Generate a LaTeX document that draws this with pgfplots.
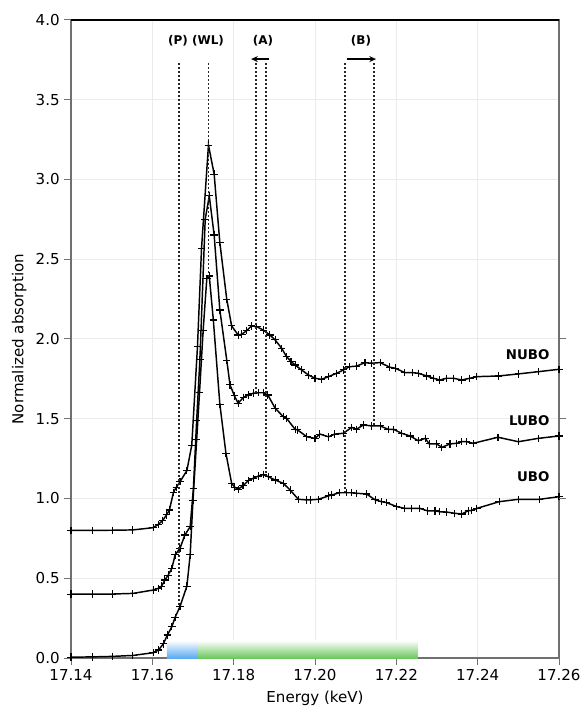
\documentclass[border=0pt]{standalone}
\usepackage{fontspec}
\setmainfont{DejaVu Sans}
\usepackage{pgfplots}
\pgfplotsset{compat=1.18}
\usetikzlibrary{arrows.meta,calc}
\definecolor{gridgray}{HTML}{EBEBEB}
\definecolor{bandblue}{HTML}{5AAAF0}
\definecolor{bandgreen}{HTML}{6CC85E}
\definecolor{spine}{HTML}{707070}
\tikzset{dotline/.style={black!85, line width=1.1pt, dash pattern=on 1.8pt off 1.2pt}}
\pgfplotsset{spec/.style={black, line width=1.1pt, mark=+, mark size=2.8pt,
    mark options={line width=0.8pt, solid}}}

\begin{document}
\begin{tikzpicture}
\begin{axis}[name=ax, scale only axis, width=366pt, height=478.5pt,
  xmin=17.14, xmax=17.26, ymin=0, ymax=4,
  xtick={17.14,17.16,17.18,17.20,17.22,17.24,17.26},
  ytick={0,0.5,1,1.5,2,2.5,3,3.5,4},
  xticklabel style={/pgf/number format/.cd,fixed,fixed zerofill,precision=2},
  yticklabel style={/pgf/number format/.cd,fixed,fixed zerofill,precision=1},
  /pgf/number format/assume math mode=true,
  font=\fontsize{11.3}{13}\selectfont,
  tick label style={font=\fontsize{11.3}{13}\selectfont},
  xtick pos=left, ytick pos=left, tick align=outside,
  major tick length=5pt,
  tick style={spine, line width=0.75pt},
  axis line style={spine, line width=0.9pt},
  grid=major, major grid style={gridgray, line width=0.75pt},
  xlabel={Energy (keV)}, ylabel={Normalized absorption},
  xlabel style={yshift=-1pt},
  clip mode=individual,
]
% energy windows at the bottom
\fill[bottom color=bandblue, top color=white] (axis cs:17.1636,0) rectangle (axis cs:17.1712,0.11);
\fill[bottom color=bandgreen, top color=white] (axis cs:17.1712,0) rectangle (axis cs:17.2253,0.11);

% UBO
\addplot[spec] coordinates {
(17.1400,0.005)(17.1452,0.007)(17.1501,0.010)(17.1552,0.016)(17.1602,0.033)
(17.1615,0.050)(17.1627,0.088)(17.1637,0.144)(17.1648,0.196)(17.1656,0.255)
(17.1668,0.322)(17.1685,0.451)(17.1693,0.646)(17.1700,0.990)(17.1709,1.367)
(17.1716,1.663)(17.1725,2.056)(17.1734,2.380)(17.1740,2.395)(17.1750,2.119)
(17.1766,1.592)(17.1781,1.283)(17.1795,1.095)(17.1803,1.070)(17.1811,1.058)
(17.1823,1.080)(17.1836,1.112)(17.1848,1.127)(17.1860,1.140)(17.1873,1.150)
(17.1885,1.137)(17.1902,1.116)(17.1922,1.095)(17.1939,1.053)(17.1959,0.995)
(17.1980,0.991)(17.1988,0.991)(17.2008,0.995)(17.2033,1.016)(17.2041,1.022)
(17.2060,1.036)(17.2078,1.036)(17.2090,1.036)(17.2102,1.033)(17.2127,1.028)
(17.2148,0.991)(17.2164,0.980)(17.2176,0.974)(17.2201,0.949)(17.2221,0.938)
(17.2238,0.938)(17.2258,0.938)(17.2276,0.923)(17.2295,0.923)(17.2307,0.917)
(17.2324,0.915)(17.2344,0.907)(17.2361,0.903)(17.2377,0.923)(17.2385,0.925)
(17.2398,0.938)(17.2453,0.980)(17.2500,0.995)(17.2552,0.995)(17.2600,1.011)
};
% LUBO
\addplot[spec] coordinates {
(17.1400,0.400)(17.1452,0.400)(17.1501,0.401)(17.1552,0.405)(17.1602,0.426)
(17.1615,0.437)(17.1623,0.451)(17.1631,0.489)(17.1639,0.520)(17.1648,0.562)
(17.1656,0.646)(17.1668,0.688)(17.1680,0.771)(17.1693,0.823)(17.1701,1.064)
(17.1709,1.490)(17.1717,1.873)(17.1730,2.750)(17.1740,2.897)(17.1752,2.652)
(17.1766,2.182)(17.1783,1.868)(17.1791,1.712)(17.1802,1.643)(17.1811,1.597)
(17.1824,1.634)(17.1836,1.649)(17.1848,1.660)(17.1861,1.663)(17.1873,1.663)
(17.1884,1.649)(17.1902,1.566)(17.1922,1.513)(17.1930,1.503)(17.1951,1.434)
(17.1957,1.430)(17.1980,1.387)(17.2000,1.377)(17.2012,1.404)(17.2033,1.387)
(17.2049,1.404)(17.2070,1.409)(17.2090,1.446)(17.2102,1.434)(17.2119,1.461)
(17.2139,1.455)(17.2160,1.455)(17.2180,1.434)(17.2193,1.434)(17.2213,1.409)
(17.2234,1.392)(17.2254,1.362)(17.2271,1.377)(17.2281,1.342)(17.2299,1.342)
(17.2312,1.321)(17.2332,1.342)(17.2348,1.346)(17.2361,1.356)(17.2373,1.356)
(17.2389,1.346)(17.2450,1.384)(17.2500,1.356)(17.2549,1.377)(17.2600,1.392)
};
% NUBO
\addplot[spec] coordinates {
(17.1400,0.800)(17.1452,0.800)(17.1501,0.801)(17.1552,0.803)(17.1602,0.817)
(17.1615,0.838)(17.1625,0.861)(17.1635,0.897)(17.1642,0.928)(17.1652,1.039)
(17.1659,1.070)(17.1668,1.105)(17.1685,1.175)(17.1697,1.335)(17.1711,1.952)
(17.1721,2.569)(17.1738,3.216)(17.1752,3.034)(17.1766,2.604)(17.1783,2.249)
(17.1795,2.082)(17.1811,2.025)(17.1820,2.030)(17.1832,2.052)(17.1844,2.082)
(17.1857,2.077)(17.1873,2.056)(17.1889,2.025)(17.1902,1.994)(17.1918,1.942)
(17.1930,1.889)(17.1941,1.860)(17.1951,1.837)(17.1967,1.806)(17.1984,1.774)
(17.2000,1.754)(17.2016,1.747)(17.2033,1.764)(17.2053,1.785)(17.2070,1.806)
(17.2084,1.826)(17.2102,1.830)(17.2123,1.852)(17.2139,1.848)(17.2160,1.852)
(17.2184,1.823)(17.2197,1.817)(17.2221,1.789)(17.2240,1.789)(17.2254,1.785)
(17.2275,1.768)(17.2291,1.754)(17.2307,1.743)(17.2324,1.754)(17.2340,1.754)
(17.2361,1.743)(17.2381,1.754)(17.2398,1.764)(17.2451,1.768)(17.2500,1.781)
(17.2549,1.795)(17.2600,1.810)
};

% marker lines
\draw[dotline] (axis cs:17.1666,3.73) -- (axis cs:17.1666,0.32);
\draw[dotline] (axis cs:17.1738,3.73) -- (axis cs:17.1738,2.39);
\draw[dotline] (axis cs:17.1855,3.73) -- (axis cs:17.1855,1.66);
\draw[dotline] (axis cs:17.1879,3.73) -- (axis cs:17.1879,1.14);
\draw[dotline] (axis cs:17.2074,3.73) -- (axis cs:17.2074,1.04);
\draw[dotline] (axis cs:17.2145,3.73) -- (axis cs:17.2145,1.46);
\draw[-{Stealth[length=5pt,width=4.5pt]}, line width=1pt] (axis cs:17.1888,3.755) -- (axis cs:17.1843,3.755);
\draw[-{Stealth[length=5pt,width=4.5pt]}, line width=1pt] (axis cs:17.2079,3.755) -- (axis cs:17.2150,3.755);

\begin{scope}[every node/.style={font=\fontsize{9}{10}\selectfont\bfseries}]
\node at (axis cs:17.1663,3.87) {(P)};
\node at (axis cs:17.1737,3.87) {(WL)};
\node at (axis cs:17.1872,3.87) {(A)};
\node at (axis cs:17.2113,3.87) {(B)};
\end{scope}
\begin{scope}[every node/.style={font=\fontsize{10}{12}\selectfont\bfseries, anchor=east}]
\node at (axis cs:17.2588,1.90) {NUBO};
\node at (axis cs:17.2588,1.49) {LUBO};
\node at (axis cs:17.2588,1.135) {UBO};
\end{scope}
\end{axis}
\draw[black, line width=0.9pt] (ax.north west) -- (ax.north east);
\foreach \f in {0.25,0.375,0.5}
  \draw[spine, line width=0.75pt] ($(ax.south east)!\f!(ax.north east)$) -- ++(5pt,0);
\pgfresetboundingbox
\path ($(ax.south west)+(-53.25pt,-36pt)$) rectangle ($(ax.north east)+(15.75pt,15pt)$);
\end{tikzpicture}
\end{document}
